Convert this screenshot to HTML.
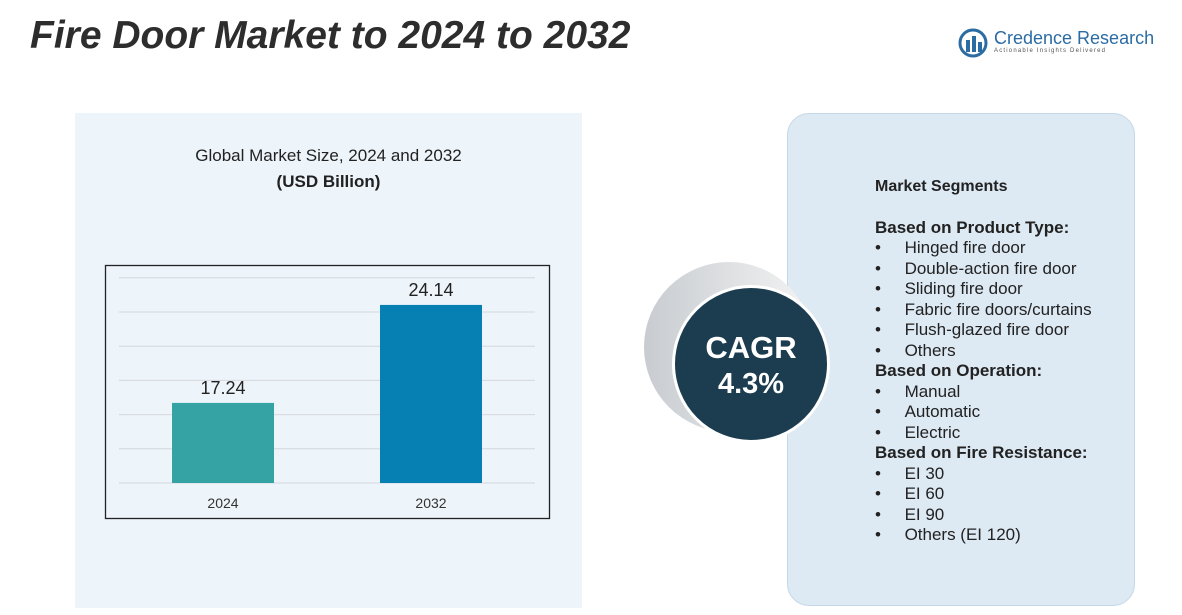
<!DOCTYPE html>
<html><head><meta charset="utf-8"><style>
body{margin:0;width:1182px;height:615px;background:#fff;position:relative;overflow:hidden;font-family:"Liberation Sans",sans-serif;}
.abs{position:absolute;}
</style></head><body>
<div class="abs" style="left:30px;top:14px;font-size:39px;font-weight:bold;font-style:italic;color:#2d2d2d;">Fire Door Market to 2024 to 2032</div>
<div class="abs" style="left:958px;top:28px;">
 <svg width="32" height="30" class="abs" style="left:0;top:0"><circle cx="15" cy="15" r="13" fill="none" stroke="#2b6ca3" stroke-width="3"/><rect x="8" y="12" width="4" height="12" fill="#2b6ca3"/><rect x="14" y="8" width="4" height="16" fill="#2b6ca3"/><rect x="20" y="14" width="4" height="10" fill="#2b6ca3"/></svg>
 <div class="abs" style="left:36px;top:0;font-size:18px;color:#2b6ca3;white-space:nowrap;">Credence Research</div>
 <div class="abs" style="left:36px;top:20px;font-size:6px;letter-spacing:1.2px;color:#555;white-space:nowrap;">Actionable Insights Delivered</div>
</div>
<div class="abs" style="left:75px;top:113px;width:507px;height:495px;background:#edf4fa;"></div>
<div class="abs" style="left:75px;top:146px;width:507px;text-align:center;font-size:17px;color:#222;">Global Market Size,  2024 and 2032</div>
<div class="abs" style="left:75px;top:172px;width:507px;text-align:center;font-size:17px;font-weight:bold;color:#222;">(USD Billion)</div>
<svg class="abs" style="left:0;top:0" width="1182" height="615">
<rect x="105.5" y="265.5" width="444" height="253" fill="none" stroke="#222" stroke-width="1.3"/>
<g id="grid"></g><g id="bars"></g>
</svg>
<div class="abs" style="left:787px;top:113px;width:346px;height:491px;border-radius:22px;background:#dde9f3;border:1px solid #c5d8e8;"></div>
<div class="abs" style="left:644px;top:262px;width:170px;height:170px;border-radius:50%;background:linear-gradient(90deg,#c8ccd0,#f4f4f4);"></div>
<div class="abs" style="left:672px;top:285px;width:152px;height:152px;border-radius:50%;background:#1b3d4f;border:3px solid #fff;color:#fff;text-align:center;font-weight:bold;">
 <div style="margin-top:42px;font-size:31px;">CAGR</div><div style="font-size:29px;margin-top:2px;">4.3%</div></div>
<div class="abs" style="left:875px;top:177px;font-size:17px;color:#222;line-height:20.5px;white-space:nowrap;">
<div style="font-weight:bold;font-size:16px;">Market Segments</div><div style="height:20px"></div>
<div style="font-weight:bold">Based on Product Type:</div>
<div>•&nbsp;&nbsp;&nbsp;&nbsp;&nbsp;Hinged fire door</div><div>•&nbsp;&nbsp;&nbsp;&nbsp;&nbsp;Double-action fire door</div><div>•&nbsp;&nbsp;&nbsp;&nbsp;&nbsp;Sliding fire door</div><div>•&nbsp;&nbsp;&nbsp;&nbsp;&nbsp;Fabric fire doors/curtains</div><div>•&nbsp;&nbsp;&nbsp;&nbsp;&nbsp;Flush-glazed fire door</div><div>•&nbsp;&nbsp;&nbsp;&nbsp;&nbsp;Others</div>
<div style="font-weight:bold">Based on Operation:</div>
<div>•&nbsp;&nbsp;&nbsp;&nbsp;&nbsp;Manual</div><div>•&nbsp;&nbsp;&nbsp;&nbsp;&nbsp;Automatic</div><div>•&nbsp;&nbsp;&nbsp;&nbsp;&nbsp;Electric</div>
<div style="font-weight:bold">Based on Fire Resistance:</div>
<div>•&nbsp;&nbsp;&nbsp;&nbsp;&nbsp;EI 30</div><div>•&nbsp;&nbsp;&nbsp;&nbsp;&nbsp;EI 60</div><div>•&nbsp;&nbsp;&nbsp;&nbsp;&nbsp;EI 90</div><div>•&nbsp;&nbsp;&nbsp;&nbsp;&nbsp;Others (EI 120)</div>
</div>
<script>
const categories=["2024","2032"];
const values=[17.24,24.14];
const labels=["17.24","24.14"];
const colors=["#35a3a3","#0680b2"];
const yMin=11.6, pxPerUnit=14.2, base=483;
const y=v=>base-(v-yMin)*pxPerUnit;
const x=i=>172+i*208;
const ns="http://www.w3.org/2000/svg";
const grid=document.getElementById('grid'), bars=document.getElementById('bars');
for(let k=0;k<7;k++){const l=document.createElementNS(ns,'line');


const gy=base-k*34.2;l.setAttribute('x1',119);l.setAttribute('x2',535);l.setAttribute('y1',gy);l.setAttribute('y2',gy);l.setAttribute('stroke','#d4d8dc');grid.appendChild(l);}
values.forEach((v,i)=>{
const r=document.createElementNS(ns,'rect');


r.setAttribute('x',x(i));r.setAttribute('width',102);r.setAttribute('y',y(v));r.setAttribute('height',base-y(v));r.setAttribute('fill',colors[i]);bars.appendChild(r);
const t=document.createElementNS(ns,'text');


t.setAttribute('x',x(i)+51);t.setAttribute('y',y(v)-9);t.setAttribute('text-anchor','middle');t.setAttribute('font-size','18');t.setAttribute('fill','#222');t.setAttribute('font-family','Liberation Sans');t.textContent=labels[i];bars.appendChild(t);
const c=document.createElementNS(ns,'text');


c.setAttribute('x',x(i)+51);c.setAttribute('y',508);c.setAttribute('text-anchor','middle');c.setAttribute('font-size','14');c.setAttribute('fill','#333');c.setAttribute('font-family','Liberation Sans');c.textContent=categories[i];bars.appendChild(c);
});
</script>
</body></html>
